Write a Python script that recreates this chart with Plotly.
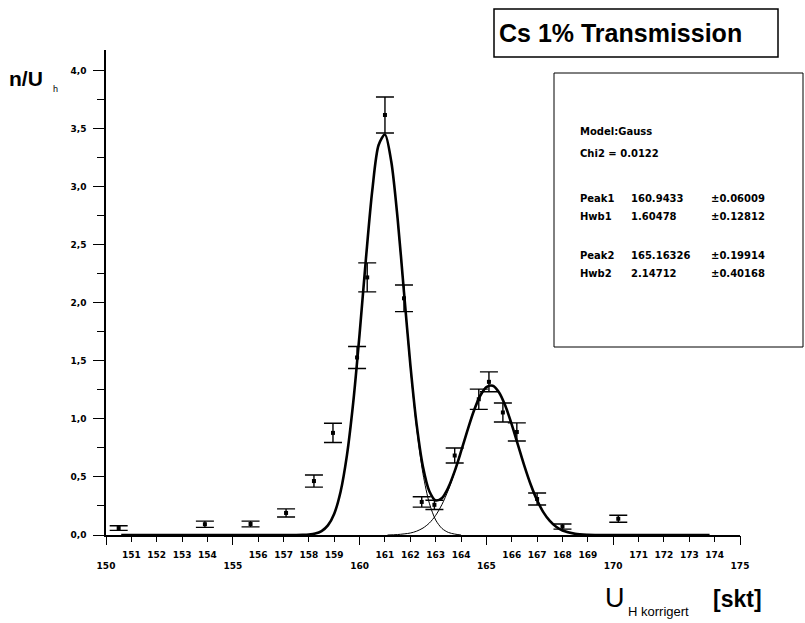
import plotly.graph_objects as go

# ---- measured data (n/U_h vs U_H korrigiert) ----
x_data = [150.5, 153.9, 155.7, 157.1, 158.2, 158.95, 159.9, 160.3, 161.0, 161.75,
          162.45, 162.95, 163.75, 164.7, 165.1, 165.65, 166.2, 167.0, 168.0, 170.2]
y_data = [0.06, 0.093, 0.095, 0.19, 0.465, 0.88, 1.53, 2.22, 3.62, 2.04,
          0.285, 0.26, 0.685, 1.17, 1.32, 1.056, 0.888, 0.31, 0.073, 0.14]
y_err = [0.02, 0.027, 0.025, 0.035, 0.052, 0.083, 0.095, 0.125, 0.155, 0.115,
         0.045, 0.04, 0.065, 0.087, 0.086, 0.082, 0.078, 0.052, 0.022, 0.03]

# ---- fit curve (sum of two Gauss peaks) ----
fit_x = [150.6, 157.5, 157.75, 158.0, 158.25, 158.5, 158.75, 159.0, 159.25, 159.5,
         159.75, 160.0, 160.25, 160.5, 160.75, 161.0, 161.25, 161.5, 161.75, 162.0,
         162.25, 162.5, 162.75, 163.0, 163.25, 163.5, 163.75, 164.0, 164.25, 164.5,
         164.75, 165.0, 165.25, 165.5, 165.75, 166.0, 166.25, 166.5, 166.75, 167.0,
         167.25, 167.5, 167.75, 168.0, 168.5, 169.0, 169.5, 170.0, 173.8]
fit_total = [0, 0.0004, 0.0013, 0.004, 0.012, 0.034, 0.083, 0.184, 0.373, 0.686,
             1.145, 1.734, 2.382, 2.970, 3.361, 3.452, 3.217, 2.724, 2.094, 1.471,
             0.951, 0.586, 0.377, 0.298, 0.319, 0.410, 0.550, 0.720, 0.899, 1.066,
             1.198, 1.275, 1.286, 1.228, 1.111, 0.952, 0.773, 0.594, 0.433, 0.299,
             0.195, 0.121, 0.071, 0.039, 0.010, 0.002, 0.0003, 0, 0]

# single peak components (thin lines)
peak1_x = [161.5, 161.75, 162.0, 162.25, 162.5, 162.75, 163.0, 163.25, 163.5, 163.75, 164.0]
peak1_y = [2.720, 2.087, 1.454, 0.919, 0.527, 0.274, 0.129, 0.056, 0.022, 0.008, 0.0]
peak2_x = [161.1, 161.5, 162.0, 162.25, 162.5, 162.75, 163.0, 163.25, 163.5, 163.75, 164.0, 164.25, 164.5]
peak2_y = [0.0, 0.004, 0.017, 0.033, 0.060, 0.103, 0.169, 0.264, 0.389, 0.542, 0.717, 0.899, 1.066]

# ---- axis ticks ----
x_ticks = list(range(150, 176))
x_ticktext = [("<br>%d" % v) if v % 5 == 0 else str(v) for v in x_ticks]
x_major = list(range(150, 176, 5))

title_text = "Cs 1% Transmission"
legend_rows = [
    ("Peak1", "160.9433", "±0.06009"),
    ("Hwb1", "1.60478", "±0.12812"),
    ("Peak2", "165.16326", "±0.19914"),
    ("Hwb2", "2.14712", "±0.40168"),
]

W, H = 805, 623
L, R, T, B = 106, 65, 50, 88
PW, PH = W - L - R, H - T - B


def px(xp):
    return (xp - L) / PW


def py(yp):
    return (H - B - yp) / PH


fig = go.Figure()

fig.add_trace(go.Scatter(x=peak1_x, y=peak1_y, mode="lines",
                         line=dict(color="black", width=1, shape="spline", smoothing=0.8),
                         hoverinfo="skip", showlegend=False))
fig.add_trace(go.Scatter(x=peak2_x, y=peak2_y, mode="lines",
                         line=dict(color="black", width=1, shape="spline", smoothing=0.8),
                         hoverinfo="skip", showlegend=False))
fig.add_trace(go.Scatter(x=fit_x, y=fit_total, mode="lines",
                         line=dict(color="black", width=2.6, shape="spline", smoothing=0.8),
                         showlegend=False))
fig.add_trace(go.Scatter(
    x=x_data, y=y_data, mode="markers",
    marker=dict(symbol="square", size=4, color="black"),
    error_y=dict(type="data", array=y_err, visible=True, color="black", thickness=1.4, width=9),
    showlegend=False, cliponaxis=False))
# empty trace carrying the overlay axis with the long major ticks
fig.add_trace(go.Scatter(x=[150, 175], y=[None, None], xaxis="x2", mode="lines",
                         showlegend=False, hoverinfo="skip"))

tickfont = dict(family="DejaVu Sans", size=9, color="black", weight="bold")

fig.update_layout(
    width=W, height=H,
    margin=dict(l=L, r=R, t=T, b=B),
    paper_bgcolor="white", plot_bgcolor="white",
    separators=",.",
    xaxis=dict(range=[150, 175], tickmode="array", tickvals=x_ticks, ticktext=x_ticktext,
               ticks="outside", ticklen=5, tickwidth=1.4, tickcolor="black",
               showline=True, linewidth=1.5, linecolor="black", ticklabelstandoff=5,
               showgrid=False, zeroline=False, tickfont=tickfont, tickangle=0),
    xaxis2=dict(range=[150, 175], overlaying="x", anchor="y", side="bottom",
                tickmode="array", tickvals=x_major, ticks="outside", ticklen=9,
                tickwidth=1.4, tickcolor="black", showticklabels=False,
                showline=False, showgrid=False, zeroline=False),
    yaxis=dict(range=[0, 4.18], tickmode="linear", tick0=0, dtick=0.5, tickformat=".1f",
               ticks="outside", ticklen=11, tickwidth=1.4, tickcolor="black",
               minor=dict(dtick=0.25, ticklen=7, ticks="outside", tickwidth=1.4, tickcolor="black"),
               showline=True, linewidth=1.5, linecolor="black", ticklabelstandoff=5,
               showgrid=False, zeroline=False, tickfont=tickfont),
    font=dict(family="Liberation Sans", color="black"),
)

# title box
fig.add_shape(type="rect", xref="paper", yref="paper",
              x0=px(494), x1=px(778), y0=py(9), y1=py(57),
              line=dict(color="black", width=1.5), fillcolor="white")
fig.add_annotation(xref="paper", yref="paper", x=px(497), y=py(33), xanchor="left", yanchor="middle",
                   text=title_text, showarrow=False,
                   font=dict(family="Liberation Sans", size=25, color="black", weight="bold"))

# fit results box
fig.add_shape(type="rect", xref="paper", yref="paper",
              x0=px(554), x1=px(803), y0=py(73), y1=py(347),
              line=dict(color="black", width=1), fillcolor="rgba(0,0,0,0)")
lfont = dict(family="DejaVu Sans", size=10, color="black", weight="bold")
fig.add_annotation(xref="paper", yref="paper", x=px(578), y=py(132), xanchor="left", yanchor="middle",
                   text="Model:Gauss", showarrow=False, font=lfont)
fig.add_annotation(xref="paper", yref="paper", x=px(578), y=py(153), xanchor="left", yanchor="middle",
                   text="Chi2 = 0.0122", showarrow=False, font=lfont)
row_y = [198, 216, 255, 273]
for (lab, val, err), yy in zip(legend_rows, row_y):
    fig.add_annotation(xref="paper", yref="paper", x=px(578), y=py(yy), xanchor="left", yanchor="middle",
                       text=lab, showarrow=False, font=lfont)
    fig.add_annotation(xref="paper", yref="paper", x=px(629), y=py(yy), xanchor="left", yanchor="middle",
                       text=val, showarrow=False, font=lfont)
    fig.add_annotation(xref="paper", yref="paper", x=px(709), y=py(yy), xanchor="left", yanchor="middle",
                       text=err, showarrow=False, font=lfont)

# axis titles
fig.add_annotation(xref="paper", yref="paper", x=px(7), y=py(78), xanchor="left", yanchor="middle",
                   text="n/U", showarrow=False,
                   font=dict(family="Liberation Sans", size=21, color="black", weight="bold"))
fig.add_annotation(xref="paper", yref="paper", x=px(51), y=py(89), xanchor="left", yanchor="middle",
                   text="h", showarrow=False,
                   font=dict(family="Liberation Sans", size=9, color="black"))
fig.add_annotation(xref="paper", yref="paper", x=px(603), y=py(598), xanchor="left", yanchor="middle",
                   text="U", showarrow=False,
                   font=dict(family="Liberation Sans", size=27, color="black"))
fig.add_annotation(xref="paper", yref="paper", x=px(626), y=py(611), xanchor="left", yanchor="middle",
                   text="H korrigert", showarrow=False,
                   font=dict(family="Liberation Sans", size=13, color="black"))
fig.add_annotation(xref="paper", yref="paper", x=px(711), y=py(599), xanchor="left", yanchor="middle",
                   text="[skt]", showarrow=False,
                   font=dict(family="Liberation Sans", size=23, color="black", weight="bold"))

fig.write_html("out.html")
